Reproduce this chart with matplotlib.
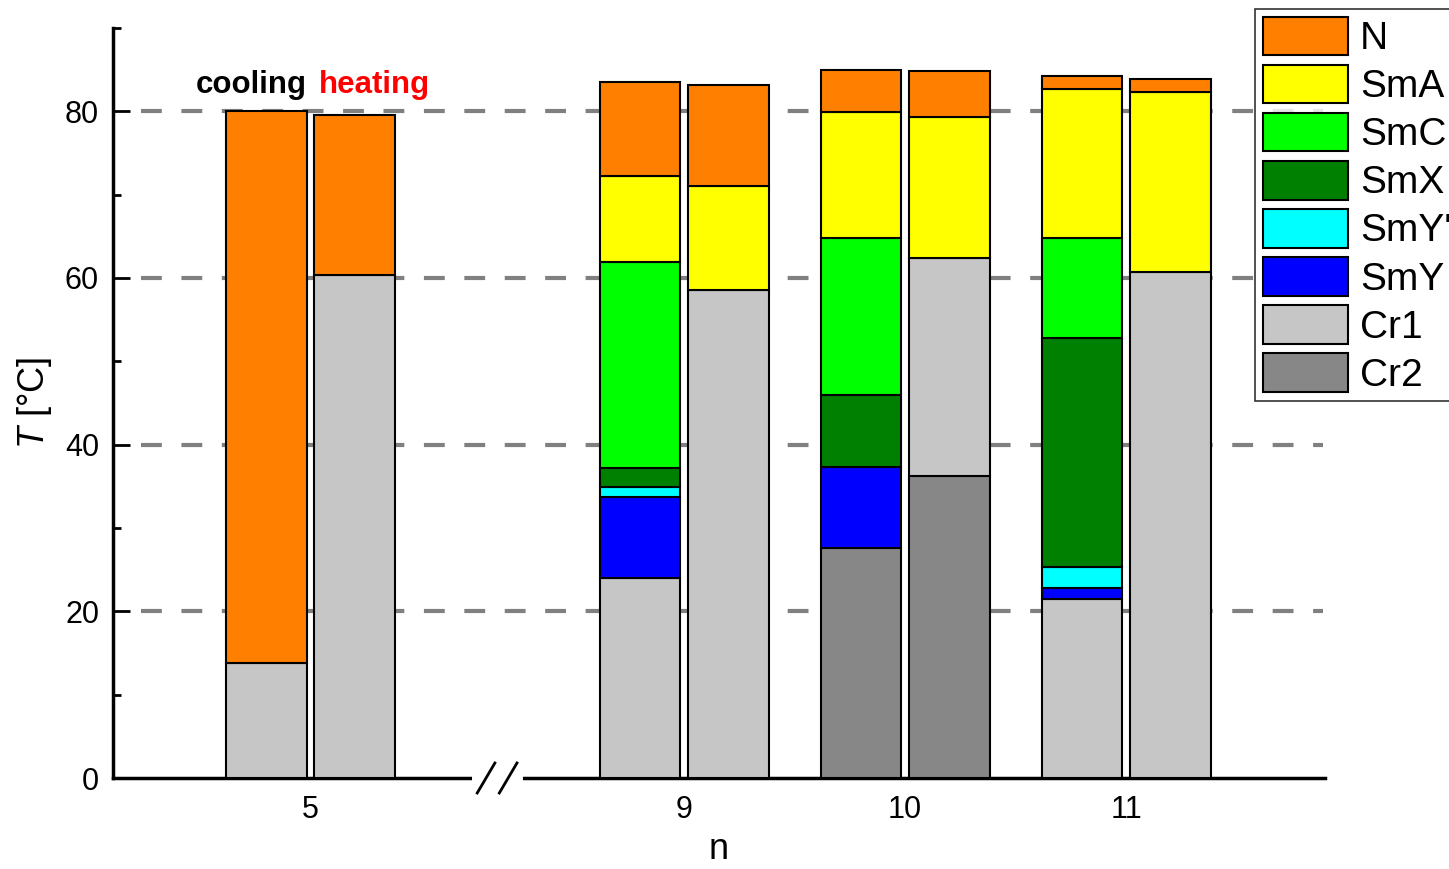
import numpy as np
import matplotlib
matplotlib.use('Agg')
import matplotlib.pyplot as plt
from matplotlib.patches import Patch
from matplotlib.ticker import MultipleLocator

plt.rcParams['font.family'] = ['Liberation Sans', 'DejaVu Sans']
plt.rcParams['mathtext.fontset'] = 'custom'
plt.rcParams['mathtext.it'] = 'Liberation Sans:italic'
plt.rcParams['mathtext.rm'] = 'Liberation Sans'

# groups (n) and bar positions on the x axis (5 sits before the axis break)
group_labels = ['5', '9', '10', '11']
group_x = [7.31, 9, 10, 11]

# phases, bottom to top of each bar
phases = ['Cr2', 'Cr1', 'SmY', "SmY'", 'SmX', 'SmC', 'SmA', 'N']
colors = ['#878787', '#c6c6c6', '#0000ff', '#00ffff', '#008000', '#00ff00', '#ffff00', '#ff8000']

# upper temperature of each phase, bars: 5c, 5h, 9c, 9h, 10c, 10h, 11c, 11h
nan = np.nan
top_Cr2 = [nan, nan, nan, nan, 27.6, 36.2, nan, nan]
top_Cr1 = [13.8, 60.4, 24.0, 58.5, nan, 62.4, 21.5, 60.7]
top_SmY = [nan, nan, 33.7, nan, 37.3, nan, 22.8, nan]
top_SmYp = [nan, nan, 34.9, nan, nan, nan, 25.3, nan]
top_SmX = [nan, nan, 37.2, nan, 45.9, nan, 52.8, nan]
top_SmC = [nan, nan, 61.9, nan, 64.8, nan, 64.8, nan]
top_SmA = [nan, nan, 72.2, 71.0, 79.9, 79.3, 82.7, 82.3]
top_N = [80.0, 79.6, 83.5, 83.2, 85.0, 84.8, 84.2, 83.9]
tops = [top_Cr2, top_Cr1, top_SmY, top_SmYp, top_SmX, top_SmC, top_SmA, top_N]

offset = 0.2
width = 0.365
bar_x = []
for g in group_x:
    bar_x += [g - offset, g + offset]
bar_x = np.array(bar_x)

fig = plt.figure(figsize=(14.49, 8.69), dpi=100)
ax = fig.add_axes([113/1449, 1 - 778/869, (1325-113)/1449, (778-28)/869])

bottom = np.zeros(len(bar_x))
for name, col, top in zip(phases, colors, tops):
    top = np.array(top)
    has = ~np.isnan(top)
    h = np.where(has, top - bottom, 0)
    ax.bar(bar_x[has], h[has], width=width, bottom=bottom[has], color=col,
           edgecolor='black', linewidth=1.5, zorder=3)
    bottom = np.where(has, top, bottom)

ax.set_xlim(6.416, 11.9)
ax.set_ylim(0, 90)
ax.set_xticks(group_x)
ax.set_xticklabels(group_labels)
ax.yaxis.set_major_locator(MultipleLocator(20))
ax.yaxis.set_minor_locator(MultipleLocator(10))
ax.tick_params(axis='y', direction='in', length=12, width=2, labelsize=22, pad=10)
ax.tick_params(axis='y', which='minor', direction='in', length=6, width=2)
ax.tick_params(axis='x', length=0, labelsize=22, pad=12)

for s in ['top', 'right']:
    ax.spines[s].set_visible(False)
for s in ['left', 'bottom']:
    ax.spines[s].set_linewidth(2.5)

for yv in [20, 40, 60, 80]:
    ax.axhline(yv, xmin=0.023, xmax=0.998, color='#808080', lw=3,
               dashes=(5, 4.7), zorder=1)

# axis break on x
xb = 8.154
ax.plot([xb - 0.1, xb + 0.1], [0, 0], color='white', lw=5, zorder=4, clip_on=False)
for dx in [-0.05, 0.05]:
    ax.plot([xb + dx - 0.04, xb + dx + 0.04], [-1.8, 1.8], color='black', lw=2,
            zorder=5, clip_on=False)

ax.set_xlabel('n', fontsize=26, labelpad=5)
ax.set_ylabel(r'$T$ [°C]', fontsize=26, labelpad=8)

ax.text(group_x[0] - offset + width / 2, 81.3, 'cooling', ha='right', va='bottom',
        fontsize=22.5, fontweight='bold', color='black')
ax.text(group_x[0] + offset - width / 2 + 0.02, 81.3, 'heating', ha='left', va='bottom',
        fontsize=22.5, fontweight='bold', color='red')

handles = [Patch(facecolor=c, edgecolor='black', linewidth=1.5) for c in colors][::-1]
leg = fig.legend(handles, phases[::-1], loc='upper left',
                 bbox_to_anchor=(1255/1449, 1 - 9/869), borderaxespad=0, fontsize=28,
                 handlelength=2.2, handleheight=1.15, labelspacing=0.195,
                 handletextpad=0.3, borderpad=0.2, frameon=True, fancybox=False)
leg.get_frame().set_edgecolor('black')
leg.get_frame().set_linewidth(1.2)

plt.savefig('out.png', dpi=100)
